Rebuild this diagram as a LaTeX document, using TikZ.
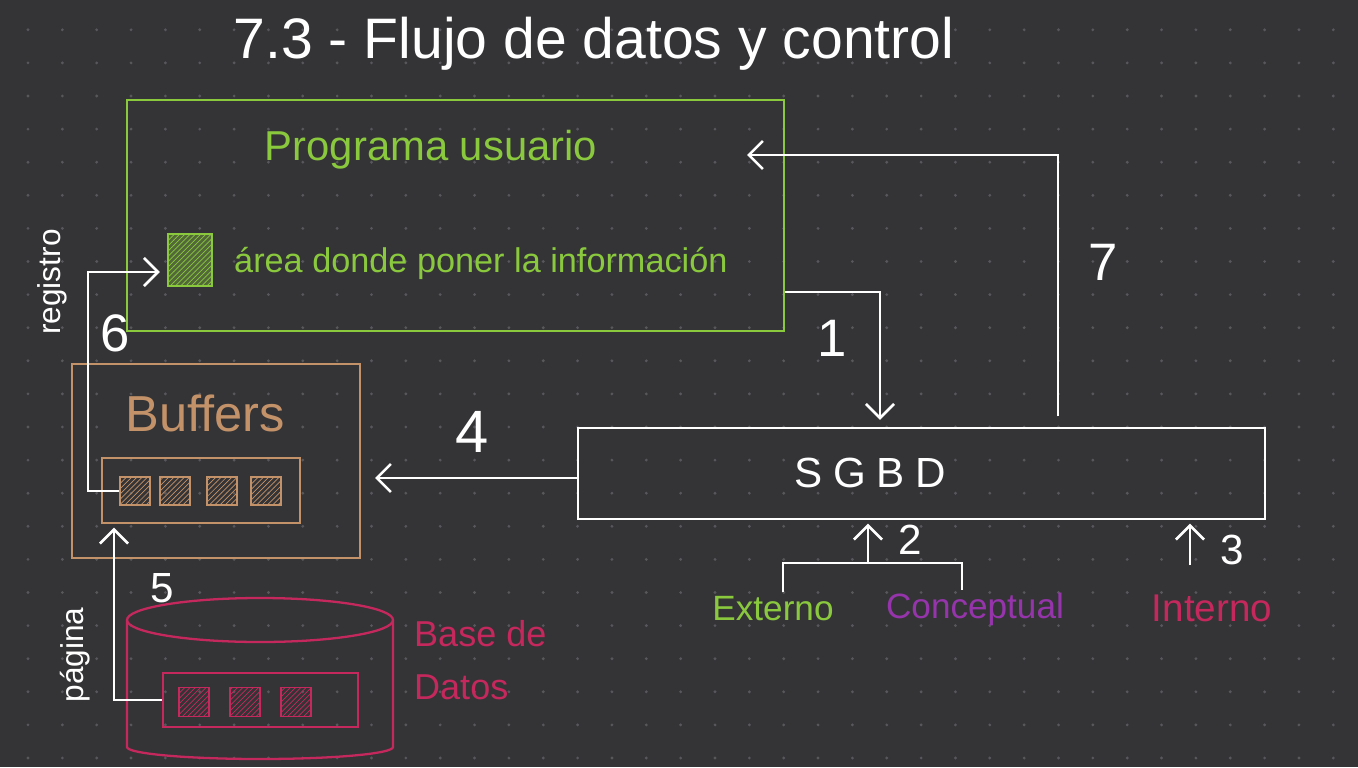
\documentclass[tikz,border=0pt]{standalone}
\usepackage{fontspec}
\setmainfont{Liberation Sans}
\usetikzlibrary{arrows.meta,patterns}
\definecolor{pizarra}{RGB}{52,52,55}
\definecolor{punto}{RGB}{88,88,92}
\definecolor{verde}{RGB}{138,200,62}
\definecolor{arena}{RGB}{196,146,104}
\definecolor{granate}{RGB}{196,40,92}
\definecolor{violeta}{RGB}{150,52,172}
\begin{document}
\begin{tikzpicture}[x = 0.02cm, y = -0.02cm,
    trazo/.style = {white, line width=1.5pt},
    flecha/.style = {trazo, -{Straight Barb[length=8pt,width=16pt]}},
    caja/.style = {draw, line width=1.3pt, inner sep=0pt},
    celda/.style = {draw=arena, line width=1pt, minimum width=0.6cm, minimum height=0.56cm, pattern=north east lines, pattern color=arena},
    celdadb/.style = {draw=granate, line width=1pt, minimum width=0.6cm, minimum height=0.58cm, pattern=north east lines, pattern color=granate},
    num/.style = {white, font=\fontsize{30}{36}\selectfont},
    numchico/.style = {white, font=\fontsize{24}{28}\selectfont}]
                \useasboundingbox (0,0) rectangle (1358,767);
                \fill[pizarra] (0,0) rectangle (1358,767);
                \foreach \i in {0,...,38}
                    \foreach \j in {0,...,22}
                        \fill[punto] (28+34.35*\i, 29.8+33.1*\j) circle[radius=0.9pt];
                \node[white, font=\fontsize{32.5}{38}\selectfont] (titulo) at (594,44) {7.3 - Flujo de datos y control};
                \node[caja, draw=verde, minimum width=13.14cm, minimum height=4.62cm] (prog) at (455.5,215.5) {};
                \node[verde, font=\fontsize{23.8}{28}\selectfont] (progtxt) at (431,150) {Programa usuario};
                \node[caja, draw=verde, line width=1.2pt, minimum width=0.88cm, minimum height=1.04cm, preaction={fill=verde!35!pizarra}, pattern=north east lines, pattern color=verde] (area) at (190,260) {};
                \node[verde, anchor=west, font=\fontsize{19.5}{23}\selectfont] (areatxt) at (228,263) {área donde poner la información};
                \node[caja, draw=arena, minimum width=5.76cm, minimum height=3.88cm] (buf) at (216,461) {};
                \node[arena, font=\fontsize{28.8}{34}\selectfont] (buftxt) at (205,413) {Buffers};
                \node[caja, draw=arena, minimum width=3.96cm, minimum height=1.3cm] (bufrow) at (201,490.5) {};
                \node[celda] (c1) at (135,491) {};
                \node[celda] (c2) at (175,491) {};
                \node[celda] (c3) at (222,491) {};
                \node[celda] (c4) at (266,491) {};
                \draw[granate, line width=1.3pt] (260,620) ellipse[x radius=133, y radius=22];
                \draw[granate, line width=1.3pt] (127,620) -- (127,747) arc[start angle=180, end angle=0, x radius=133, y radius=12] -- (393,620);
                \node[caja, draw=granate, minimum width=3.9cm, minimum height=1.08cm] (dbrow) at (260.5,700) {};
                \node[celdadb] (d1) at (194,702) {};
                \node[celdadb] (d2) at (245,702) {};
                \node[celdadb] (d3) at (296,702) {};
                \node[granate, align=left, anchor=west, font=\fontsize{20.5}{30}\selectfont] (dbtxt) at (408,660) {Base de\\Datos};
                \node[caja, draw=white, minimum width=13.74cm, minimum height=1.82cm] (sgbd) at (921.5,473.5) {};
                \node[white, font=\fontsize{24}{28}\selectfont\addfontfeature{LetterSpace=25}] (sgbdtxt) at (870,473) {SGBD};
                \node[verde, font=\fontsize{20}{24}\selectfont] (externo) at (773,609) {Externo};
                \node[violeta, font=\fontsize{20}{24}\selectfont] (conceptual) at (975,609) {Conceptual};
                \node[granate, font=\fontsize{22}{26}\selectfont] (interno) at (1212,608) {Interno};
                \node[white, rotate=90, font=\fontsize{18}{22}\selectfont] (registro) at (52,282) {registro};
                \node[white, rotate=90, font=\fontsize{18}{22}\selectfont] (pagina) at (75,655) {página};
                \coordinate (a1) at (880,292);
                \coordinate (a7) at (1058,155);
                \coordinate (a7tip) at (747,155);
                \coordinate (a4) at (375,478);
                \coordinate (reg) at (88,272);
                \coordinate (pag) at (114,697);
                \coordinate (ext) at (783,592);
                \coordinate (con) at (962,590);
                \coordinate (brk) at (868,563);
                \coordinate (a3) at (1190,565);
                \draw[flecha] (prog.east |- a1) -| ([yshift=4pt]sgbd.north -| a1);
                \draw[flecha] ([yshift=6pt]sgbd.north -| a7) -- ([yshift=-4pt]a7) |- (a7tip);
                \draw[flecha] (sgbd.west |- a4) -- (a4);
                \draw[flecha] (c1.west) -| (reg) -- ([xshift=-4pt]area.west |- reg);
                \draw[flecha] (dbrow.west) -| ([yshift=-2pt]bufrow.south -| pag);
                \draw[trazo] (ext) |- (brk) -| (con);
                \draw[flecha] (brk) -- ([yshift=-2pt]sgbd.south -| brk);
                \draw[flecha] (a3) -- ([yshift=-2pt]sgbd.south -| a3);
                \node[num] (n1) at (832,338) {1};
                \node[numchico] (n2) at (910,540) {2};
                \node[numchico] (n3) at (1232,550) {3};
                \node[num, font=\fontsize{34}{40}\selectfont] (n4) at (472,432) {4};
                \node[numchico] (n5) at (162,588) {5};
                \node[num] (n6) at (115,333) {6};
                \node[num] (n7) at (1103,262) {7};
\end{tikzpicture}
\end{document}
